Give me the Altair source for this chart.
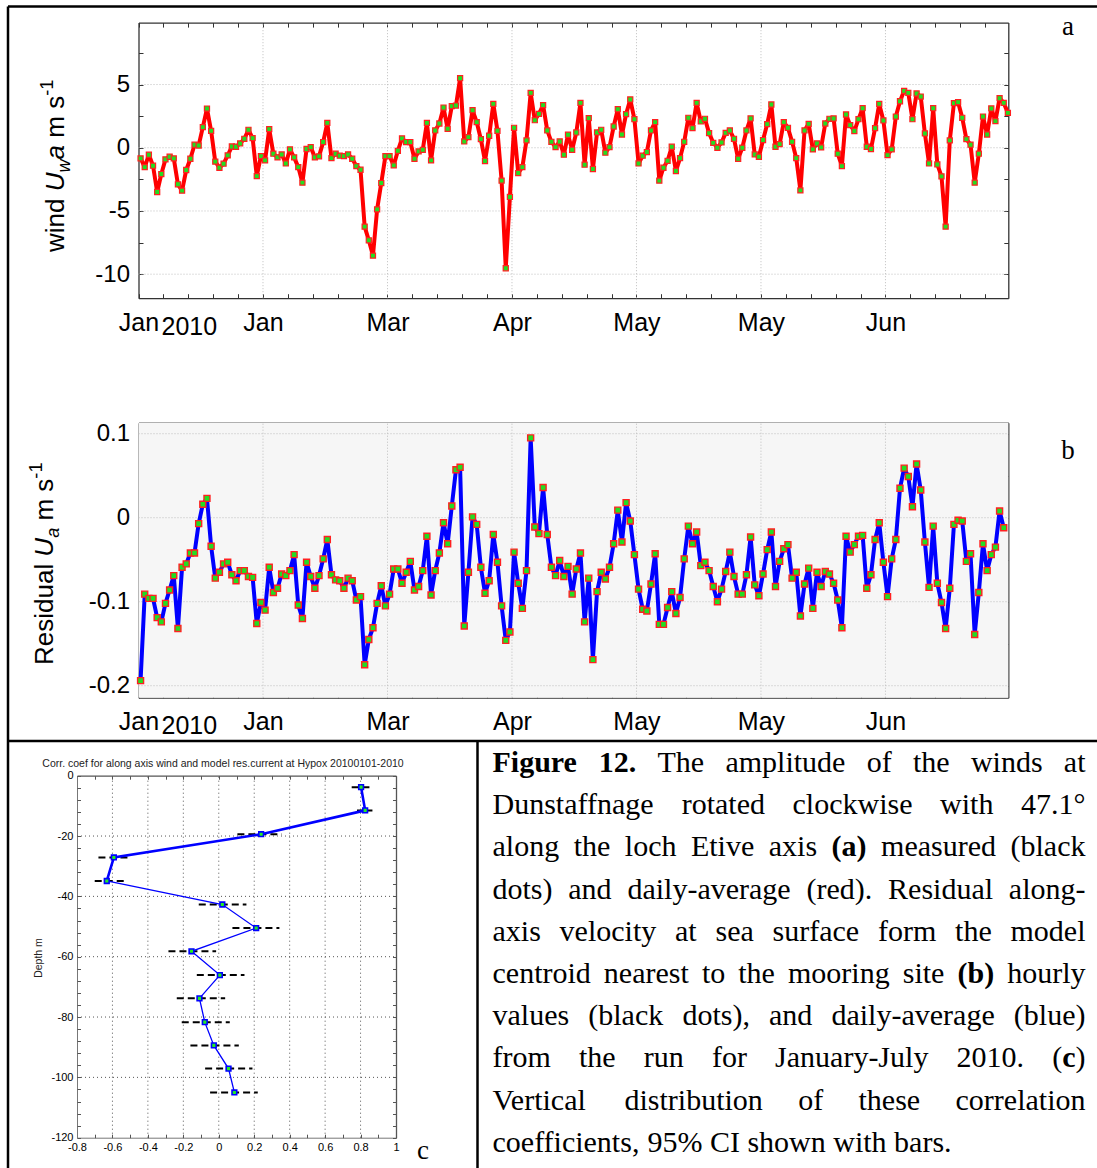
import json
import altair as alt
import pandas as pd

W, H = 1097, 1168
SANS = "Liberation Sans"
SERIF = "Liberation Serif"

# ---------------- data ----------------
# (a) daily-average along-axis wind, one value per day from 1 Jan 2010 (m/s)
wind_daily = [
    -0.84, -1.53, -0.55, -1.42, -3.5, -2.08, -0.92, -0.71, -0.84, -2.89,
    -3.39, -1.76, -0.87, 0.24, 0.18, 1.63, 3.1, 1.34, -1.1, -1.58,
    -1.26, -0.6, 0.1, 0.08, 0.34, 0.71, 1.42, 0.76, -2.24, -0.66,
    -1.0, 1.47, -0.47, -0.76, -0.53, -1.24, -0.13, -0.76, -1.53, -2.76,
    -0.1, 0.05, -0.76, -0.68, 0.45, 1.97, -0.82, -0.47, -0.63, -0.66,
    -0.53, -0.87, -1.45, -1.74, -6.24, -7.32, -8.53, -4.87, -2.79, -0.66,
    -0.66, -1.39, -0.24, 0.74, 0.45, 0.45, -0.87, -0.29, -0.16, 1.97,
    -1.0, 1.37, 1.92, 3.18, 1.5, 3.29, 3.34, 5.5, 0.5, 0.84,
    2.97, 2.03, 0.68, -1.05, 0.95, 3.47, 1.34, -2.6, -9.53, -3.89,
    1.58, -2.0, -1.53, 0.58, 4.34, 2.18, 2.68, 3.37, 1.37, 0.47,
    0.05, 0.5, -0.55, 1.03, -0.16, 1.21, 3.55, -1.34, 2.34, -1.68,
    1.21, 1.42, -0.39, 0.05, 1.68, 3.05, 1.05, 2.66, 3.82, 2.26,
    -1.24, -0.63, -0.34, 1.37, 2.03, -2.6, -1.58, -1.03, 0.08, -1.84,
    -0.82, 0.47, 2.37, 1.55, 3.55, 2.08, 2.29, 1.16, 0.39, 0.0,
    0.42, 1.18, 1.37, 0.71, -0.87, 0.0, 1.37, 2.32, -0.53, -0.71,
    0.61, 1.87, 3.42, 0.08, 0.29, 2.03, 1.58, 0.47, -0.82, -3.37,
    1.37, 1.89, -0.13, 0.34, 0.03, 1.92, 2.29, 2.32, -0.47, -1.45,
    2.63, 1.79, 1.32, 2.26, 3.13, 0.08, -0.1, 1.55, 3.47, 2.16,
    -0.58, -0.13, 2.47, 3.68, 4.5, 4.34, 2.26, 4.29, 4.05, 1.13,
    -1.24, 3.13, -1.32, -2.26, -6.24, 0.58, 3.53, 3.61, 2.37, 0.68,
    0.24, -2.76, -0.47, 2.47, 1.05, 3.11, 2.11, 3.92, 3.55, 2.76,
]
# (b) daily-average residual along-axis surface velocity (m/s)
resid_daily = [
    -0.194, -0.091, -0.096, -0.096, -0.119, -0.124, -0.102, -0.086, -0.069, -0.132,
    -0.059, -0.055, -0.042, -0.042, -0.007, 0.016, 0.023, -0.034, -0.072, -0.065,
    -0.055, -0.053, -0.068, -0.075, -0.063, -0.063, -0.070, -0.071, -0.126, -0.101,
    -0.110, -0.059, -0.089, -0.084, -0.067, -0.069, -0.063, -0.044, -0.104, -0.120,
    -0.053, -0.070, -0.084, -0.069, -0.049, -0.026, -0.068, -0.074, -0.075, -0.084,
    -0.072, -0.075, -0.098, -0.094, -0.175, -0.145, -0.131, -0.102, -0.081, -0.105,
    -0.091, -0.061, -0.061, -0.078, -0.065, -0.052, -0.086, -0.082, -0.063, -0.022,
    -0.092, -0.063, -0.042, -0.006, -0.031, 0.014, 0.057, 0.060, -0.129, -0.065,
    0.001, -0.008, -0.059, -0.090, -0.075, -0.020, -0.053, -0.105, -0.146, -0.136,
    -0.041, -0.078, -0.108, -0.063, 0.095, -0.011, -0.019, 0.036, -0.020, -0.059,
    -0.069, -0.051, -0.070, -0.058, -0.091, -0.061, -0.042, -0.124, -0.072, -0.169,
    -0.088, -0.065, -0.073, -0.059, -0.031, 0.009, -0.029, 0.018, -0.004, -0.044,
    -0.085, -0.109, -0.111, -0.079, -0.043, -0.127, -0.127, -0.107, -0.088, -0.114,
    -0.095, -0.049, -0.010, -0.031, -0.017, -0.057, -0.053, -0.063, -0.082, -0.100,
    -0.085, -0.064, -0.041, -0.070, -0.091, -0.091, -0.068, -0.023, -0.080, -0.093,
    -0.067, -0.038, -0.017, -0.082, -0.052, -0.037, -0.032, -0.072, -0.065, -0.117,
    -0.079, -0.060, -0.108, -0.065, -0.082, -0.064, -0.067, -0.078, -0.098, -0.131,
    -0.022, -0.041, -0.032, -0.022, -0.021, -0.084, -0.068, -0.026, -0.006, -0.053,
    -0.094, -0.049, -0.026, 0.035, 0.059, 0.049, 0.013, 0.064, 0.033, -0.029,
    -0.083, -0.010, -0.078, -0.101, -0.132, -0.084, -0.008, -0.003, -0.004, -0.052,
    -0.043, -0.139, -0.089, -0.031, -0.063, -0.044, -0.035, 0.008, -0.012,
]
# (c) correlation coefficient profile with 95% CI
depth_m = [-3.8, -11.5, -19.4, -27.1, -34.9, -42.7, -50.5, -58.2, -66.1, -73.8,
           -81.7, -89.4, -97.1, -105.0]
corr_coef = [0.803, 0.826, 0.239, -0.592, -0.632, 0.020, 0.211, -0.154, 0.006,
             -0.109, -0.079, -0.028, 0.055, 0.088]
ci_low = [0.75, 0.78, 0.105, -0.679, -0.70, -0.113, 0.077, -0.284, -0.124,
          -0.237, -0.209, -0.16, -0.077, -0.049]
ci_high = [0.85, 0.867, 0.355, -0.495, -0.534, 0.156, 0.342, -0.015, 0.145,
           0.036, 0.062, 0.113, 0.19, 0.22]

# ticks / labels
month_tick_days = [0, 30, 60, 90, 120, 150, 180]
month_tick_labels = ["Jan", "Jan", "Mar", "Apr", "May", "May", "Jun"]
year_label = "2010"
day_minor_ticks = list(range(0, 210, 6))
wind_ticks = [-10, -5, 0, 5]
wind_minor = [-10, -7.5, -5, -2.5, 0, 2.5, 5, 7.5]
resid_ticks = [-0.2, -0.1, 0, 0.1]
resid_minor = [-0.2, -0.15, -0.1, -0.05, 0, 0.05, 0.1]
corr_ticks = [-0.8, -0.6, -0.4, -0.2, 0, 0.2, 0.4, 0.6, 0.8, 1]
corr_minor = [-0.8, -0.7, -0.6, -0.5, -0.4, -0.3, -0.2, -0.1, 0, 0.1, 0.2, 0.3,
              0.4, 0.5, 0.6, 0.7, 0.8, 0.9, 1]
depth_ticks = [-120, -100, -80, -60, -40, -20, 0]
depth_minor = list(range(-120, 1, 4))

title_c = "Corr. coef for along axis wind and model res.current at Hypox 20100101-2010"
caption_lines = [
    "**Figure 12.** The amplitude of the winds at",
    "Dunstaffnage rotated clockwise with 47.1°",
    "along the loch Etive axis **(a)** measured (black",
    "dots) and daily-average (red). Residual along-",
    "axis velocity at sea surface form the model",
    "centroid nearest to the mooring site **(b)** hourly",
    "values (black dots), and daily-average (blue)",
    "from the run for January-July 2010. (**c**)",
    "Vertical distribution of these correlation",
    "coefficients, 95% CI shown with bars.",
]

# ---------------- layout (pixels) ----------------
PA = dict(x=(138.5, 1008.3), y=(298.2, 22.6), xdom=(0, 209.6), ydom=(-11.9, 9.9))
PB = dict(x=(138.5, 1008.3), y=(697.7, 422.7), xdom=(0, 209.6), ydom=(-0.2143, 0.1131))
PC = dict(x=(77.0, 396.0), y=(1137.7, 775.7), xdom=(-0.8, 1.0), ydom=(-120, 0))


def xs(P):
    return alt.Scale(domain=list(P["xdom"]), range=list(P["x"]), nice=False, zero=False)


def ys(P):
    return alt.Scale(domain=list(P["ydom"]), range=list(P["y"]), nice=False, zero=False)


def ax(orient, pos, values, labels=False, ticks=True, domain=False, tick_size=4.5,
       color="#333333", label_size=24, label_pad=10, label_expr=None, dwidth=1.3):
    off = {"left": -pos, "right": pos - W, "top": -pos, "bottom": pos - H}[orient]
    kw = dict(orient=orient, offset=off, values=values, labels=labels, ticks=ticks,
              domain=domain, grid=False, title=None, tickColor=color,
              tickSize=tick_size if ticks else 0, tickWidth=1, domainColor=color,
              domainWidth=dwidth)
    if labels:
        kw.update(labelFont=SANS, labelFontSize=label_size, labelColor="black",
                  labelPadding=label_pad, labelOverlap=False, labelFlush=False,
                  labelBound=False)
    if label_expr:
        kw["labelExpr"] = label_expr
    return alt.Axis(**kw)


def carrier(P, xaxis, yaxis):
    df = pd.DataFrame({"cx": list(P["xdom"]), "cy": list(P["ydom"])})
    return alt.Chart(df).mark_point(opacity=0).encode(
        x=alt.X("cx:Q", scale=xs(P), axis=xaxis),
        y=alt.Y("cy:Q", scale=ys(P), axis=yaxis),
    )


def frame(P, xlab, ylab, xminor, yminor, color, tsize):
    x0, x1 = P["x"]
    yb, yt = P["y"]
    return [
        carrier(P, xlab, ylab),
        carrier(P, ax("bottom", yt, xminor, domain=True, color=color, tick_size=tsize),
                ax("left", x1, yminor, domain=True, color=color, tick_size=tsize)),
        carrier(P, ax("top", yb, xminor, color=color, tick_size=tsize),
                ax("right", x0, yminor, color=color, tick_size=tsize)),
    ]


def grids(P, xvals, yvals, color, dash):
    dfx = pd.DataFrame({"g": xvals, "a": P["ydom"][0], "b": P["ydom"][1]})
    dfy = pd.DataFrame({"g": yvals, "a": P["xdom"][0], "b": P["xdom"][1]})
    vx = alt.Chart(dfx).mark_rule(color=color, strokeDash=dash, strokeWidth=1).encode(
        x=alt.X("g:Q", scale=xs(P), axis=None),
        y=alt.Y("a:Q", scale=ys(P), axis=None), y2="b:Q")
    hy = alt.Chart(dfy).mark_rule(color=color, strokeDash=dash, strokeWidth=1).encode(
        y=alt.Y("g:Q", scale=ys(P), axis=None),
        x=alt.X("a:Q", scale=xs(P), axis=None), x2="b:Q")
    return [vx, hy]


# ---- text helpers (glyph advance widths, 1/1000 em) ----
ARIAL = {" ": 278, "w": 722, "i": 222, "n": 556, "d": 556, "U": 722, "a": 556,
         "m": 833, "s": 500, "-": 333, "1": 556, "R": 722, "e": 556, "u": 556, "l": 222}
TIMES = dict(zip("abcdefghijklmnopqrstuvwxyz",
                 [444, 500, 444, 500, 444, 333, 500, 500, 278, 278, 500, 278, 778,
                  500, 500, 500, 500, 333, 389, 278, 500, 500, 722, 500, 500, 444]))
TIMES.update({" ": 250, ".": 250, ",": 250, "(": 333, ")": 333, "-": 333, "%": 833,
              "°": 400, "C": 667, "D": 722, "E": 611, "F": 556, "I": 333, "J": 389,
              "R": 667, "T": 611, "V": 722})
TIMES.update({str(d): 500 for d in range(10)})
TIMES_B = dict(TIMES)
TIMES_B.update({"F": 611, "u": 556, "r": 444, "a": 500, "b": 556, "c": 444})


def width(text, size, table):
    return sum(table.get(ch, 500) for ch in text) / 1000.0 * size


def vtitle(pieces, xb, y0, f):
    rows, y = [], y0
    for text, style in pieces:
        size = 0.7 * f if style in ("sub", "sup") else f
        dx = 0.22 * f if style == "sub" else (-0.42 * f if style == "sup" else 0)
        lead = len(text) - len(text.lstrip(" "))
        y -= width(" " * lead, size, ARIAL)
        t = text.strip(" ")
        rows.append(dict(t=t, x=xb + dx, y=y, size=size,
                         italic=style in ("i", "sub")))
        y -= width(text[lead:], size, ARIAL)
    return rows


def text_layers(rows, angle=0, align="left", font=SANS, weight_key=None):
    df = pd.DataFrame(rows)
    out = []
    keys = ["size", "italic"] + ([weight_key] if weight_key else [])
    for key, g in df.groupby(keys):
        size, italic = key[0], key[1]
        bold = key[2] if weight_key else False
        out.append(alt.Chart(g).mark_text(
            angle=angle, align=align, baseline="alphabetic", font=font,
            fontSize=float(size), fontStyle="italic" if italic else "normal",
            fontWeight="bold" if bold else "normal", color="black").encode(
            x=alt.X("x:Q", scale=None, axis=None),
            y=alt.Y("y:Q", scale=None, axis=None), text="t:N"))
    return out


layers = []

# ---------------- panel b background (dense hourly cloud) ----------------
layers.append(alt.Chart(pd.DataFrame({"a": [PB["xdom"][0]], "b": [PB["xdom"][1]],
                                      "c": [PB["ydom"][0]], "d": [PB["ydom"][1]]}))
              .mark_rect(fill="#f6f6f6").encode(
                  x=alt.X("a:Q", scale=xs(PB), axis=None), x2="b:Q",
                  y=alt.Y("c:Q", scale=ys(PB), axis=None), y2="d:Q"))

# ---------------- grids ----------------
layers += grids(PA, month_tick_days[1:], wind_ticks, "#bdbdbd", [1, 2])
layers += grids(PB, month_tick_days[1:], resid_ticks, "#bdbdbd", [1, 2])
layers += grids(PC, corr_ticks[1:-1], depth_ticks[1:-1], "#555555", [1, 3])

# ---------------- panel a ----------------
dfa = pd.DataFrame({"day": [i + 0.5 for i in range(len(wind_daily))], "v": wind_daily})
layers.append(alt.Chart(dfa).mark_line(color="#ff0000", strokeWidth=4, strokeJoin="round").encode(
    x=alt.X("day:Q", scale=xs(PA), axis=None), y=alt.Y("v:Q", scale=ys(PA), axis=None)))
layers.append(alt.Chart(dfa).mark_square(size=26, fill="#22dd22", stroke="#ff2020",
                                         strokeWidth=1.2, opacity=1).encode(
    x=alt.X("day:Q", scale=xs(PA), axis=None), y=alt.Y("v:Q", scale=ys(PA), axis=None)))

# ---------------- panel b ----------------
dfb = pd.DataFrame({"day": [i + 0.5 for i in range(len(resid_daily))], "v": resid_daily})
layers.append(alt.Chart(dfb).mark_line(color="#0000ff", strokeWidth=4, strokeJoin="round").encode(
    x=alt.X("day:Q", scale=xs(PB), axis=None), y=alt.Y("v:Q", scale=ys(PB), axis=None)))
layers.append(alt.Chart(dfb).mark_square(size=36, fill="#22dd22", stroke="#ff2020",
                                         strokeWidth=1.4, opacity=1).encode(
    x=alt.X("day:Q", scale=xs(PB), axis=None), y=alt.Y("v:Q", scale=ys(PB), axis=None)))

# ---------------- panel c ----------------
dfc = pd.DataFrame({"k": list(range(len(depth_m))), "d": depth_m, "r": corr_coef,
                    "lo": ci_low, "hi": ci_high})
layers.append(alt.Chart(dfc).mark_rule(color="black", strokeWidth=2, strokeDash=[7, 4]).encode(
    x=alt.X("lo:Q", scale=xs(PC), axis=None), x2="hi:Q",
    y=alt.Y("d:Q", scale=ys(PC), axis=None)))
for sub, sw in ((dfc.iloc[:5], 2.6), (dfc.iloc[4:], 1.3)):
    layers.append(alt.Chart(sub).mark_line(color="#0000ff", strokeWidth=sw).encode(
        x=alt.X("r:Q", scale=xs(PC), axis=None), y=alt.Y("d:Q", scale=ys(PC), axis=None),
        order="k:Q"))
layers.append(alt.Chart(dfc).mark_square(size=22, fill="#22ee22", stroke="#0000ff",
                                         strokeWidth=1.6, opacity=1).encode(
    x=alt.X("r:Q", scale=xs(PC), axis=None), y=alt.Y("d:Q", scale=ys(PC), axis=None)))

# ---------------- axes / frames ----------------
month_expr = f"{json.dumps(month_tick_labels)}[indexof({json.dumps(month_tick_days)}, datum.value)]"
num_expr = "'' + datum.value"
layers += frame(
    PA,
    ax("bottom", PA["y"][0], month_tick_days, labels=True, ticks=False, domain=True,
       label_size=25, label_pad=12, label_expr=month_expr),
    ax("left", PA["x"][0], wind_ticks, labels=True, ticks=False, domain=True,
       label_size=24, label_pad=9, label_expr=num_expr),
    day_minor_ticks, wind_minor, "#333333", 4.5)
layers += frame(
    PB,
    ax("bottom", PB["y"][0], month_tick_days, labels=True, ticks=False, domain=True,
       label_size=25, label_pad=12, label_expr=month_expr),
    ax("left", PB["x"][0], resid_ticks, labels=True, ticks=False, domain=True,
       label_size=24, label_pad=9, label_expr=num_expr),
    day_minor_ticks, resid_minor, "#333333", 4.5)
layers += frame(
    PC,
    ax("bottom", PC["y"][0], corr_ticks, labels=True, ticks=False, domain=True,
       color="#777777", label_size=11, label_pad=4, label_expr=num_expr, dwidth=1),
    ax("left", PC["x"][0], depth_ticks, labels=True, ticks=False, domain=True,
       color="#777777", label_size=11, label_pad=4, label_expr=num_expr, dwidth=1),
    corr_minor, depth_minor, "#555555", 3.5)

# year label next to the first "Jan"
for P, yb in ((PA, 334.5), (PB, 734)):
    layers.append(alt.Chart(pd.DataFrame({"d": [month_tick_days[0]], "t": [year_label]}))
                  .mark_text(align="left", baseline="alphabetic", dx=23, font=SANS,
                             fontSize=25, color="black").encode(
        x=alt.X("d:Q", scale=xs(P), axis=None), y=alt.value(yb), text="t:N"))

# ---------------- y-axis titles (rich text) ----------------
rows = vtitle([("wind ", "n"), ("U", "i"), ("w", "sub"), ("a", "i"), (" m s", "n"),
               ("-1", "sup")], 64, 252, 26)
rows += vtitle([("Residual ", "n"), ("U", "i"), ("a", "sub"), (" m s", "n"),
                ("-1", "sup")], 53, 665, 26)
layers += text_layers(rows, angle=270)

# panel c title and y label
layers.append(alt.Chart(pd.DataFrame({"t": [title_c], "x": [223], "y": [767]}))
              .mark_text(align="center", baseline="alphabetic", font=SANS, fontSize=10.5,
                         color="#222222").encode(
    x=alt.X("x:Q", scale=None, axis=None), y=alt.Y("y:Q", scale=None, axis=None), text="t:N"))
layers.append(alt.Chart(pd.DataFrame({"t": ["Depth m"], "x": [39], "y": [958]}))
              .mark_text(align="center", baseline="middle", angle=270, font=SANS,
                         fontSize=10.5, color="#222222").encode(
    x=alt.X("x:Q", scale=None, axis=None), y=alt.Y("y:Q", scale=None, axis=None), text="t:N"))

# panel letters
layers.append(alt.Chart(pd.DataFrame({"t": ["a", "b", "c"], "x": [1068, 1068, 423],
                                      "y": [35, 459, 1159]}))
              .mark_text(align="center", baseline="alphabetic", font=SERIF, fontSize=27,
                         color="black").encode(
    x=alt.X("x:Q", scale=None, axis=None), y=alt.Y("y:Q", scale=None, axis=None), text="t:N"))

# ---------------- caption (justified) ----------------
CAP_F = 30
CAP_L, CAP_R = 492.5, 1085.5
CAP_Y0, CAP_DY = 772, 42.2
cap_rows = []
bold = False
for li, line in enumerate(caption_lines):
    words = []
    for w in line.split(" "):
        segs = []
        parts = w.split("**")
        for pi, part in enumerate(parts):
            if pi > 0:
                bold = not bold
            if part:
                segs.append((part, bold))
        words.append(segs)
    wws = [sum(width(t, CAP_F, TIMES_B if b else TIMES) for t, b in segs) for segs in words]
    if li == len(caption_lines) - 1:
        gap = width(" ", CAP_F, TIMES)
    else:
        gap = (CAP_R - CAP_L - sum(wws)) / (len(words) - 1)
    x = CAP_L
    y = CAP_Y0 + li * CAP_DY
    for segs, ww in zip(words, wws):
        sx = x
        for t, b in segs:
            cap_rows.append(dict(t=t, x=sx, y=y, size=CAP_F, italic=False, bold=b))
            sx += width(t, CAP_F, TIMES_B if b else TIMES)
        x += ww + gap
layers += text_layers(cap_rows, font=SERIF, weight_key="bold")

# ---------------- table borders ----------------
borders = pd.DataFrame({
    "x": [8, 8, 8, 477.5], "y": [6.5, 6.5, 741, 741],
    "x2": [1097, 8, 1097, 477.5], "y2": [6.5, 1168, 741, 1168]})
layers.append(alt.Chart(borders).mark_rule(color="black", strokeWidth=2.5).encode(
    x=alt.X("x:Q", scale=None, axis=None), y=alt.Y("y:Q", scale=None, axis=None),
    x2="x2:Q", y2="y2:Q"))

chart = (alt.layer(*layers)
         .resolve_scale(x="independent", y="independent")
         .resolve_axis(x="independent", y="independent")
         .properties(width=W, height=H, padding=0,
                     autosize=alt.AutoSizeParams(type="none"), background="white")
         .configure_view(stroke=None))

chart.save("out.html", embed_options={"renderer": "svg", "actions": False})
